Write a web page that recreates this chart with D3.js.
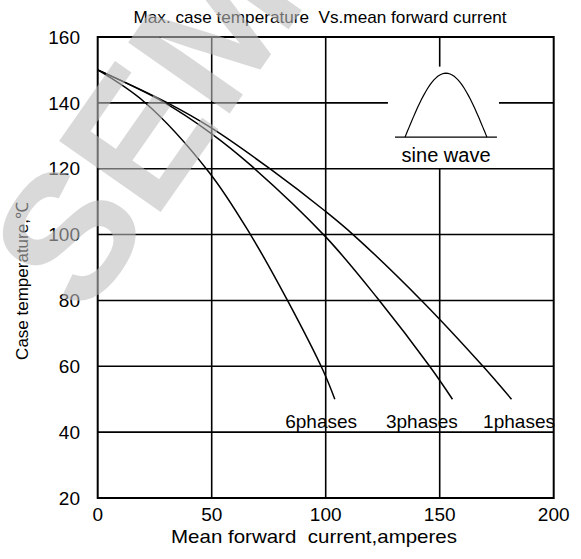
<!DOCTYPE html>
<html><head><meta charset="utf-8">
<script src="https://cdn.jsdelivr.net/npm/d3@7"></script>
<style>body{margin:0;background:#fff}</style>
</head><body>
<script>
// ---- data ----
const xTicks = [0, 50, 100, 150, 200];
const yTicks = [20, 40, 60, 80, 100, 120, 140, 160];
const phases1 = [[0,150],[30,140.2],[50,132.3],[75.5,120],[100,107],[112,100],[142,80],[169,60],[181.5,50]];
const phases3 = [[0,150],[28.7,140.3],[50,130.6],[67.2,121],[100,99.3],[122.9,80.5],[145.6,60],[155.6,50]];
const phases6 = [[0,150],[20.6,140.2],[49,118.8],[67,100],[83,80.3],[99,58.5],[104,50]];
const seriesNames = ["1phases", "3phases", "6phases"];
const labelX = [184.8, 142.2, 98];
const labelT = 41.2;

const W = 581, H = 559;
const svg = d3.select("body").append("svg").attr("width", W).attr("height", H);
const font = "'Liberation Sans', Arial, sans-serif";

const x = d3.scaleLinear().domain([0, 200]).range([97.7, 553.7]);
const y = d3.scaleLinear().domain([20, 160]).range([498, 37]);

// grid (with the inset gap)
const g = svg.append("g").attr("stroke", "#000").attr("stroke-width", 1.6);
[50, 100].forEach(v => g.append("line").attr("x1", x(v)).attr("x2", x(v)).attr("y1", y(20)).attr("y2", y(160)));
g.append("line").attr("x1", x(150)).attr("x2", x(150)).attr("y1", y(20)).attr("y2", y(120));
g.append("line").attr("x1", x(150)).attr("x2", x(150)).attr("y1", y(151)).attr("y2", y(160));
[40, 60, 80, 100, 120].forEach(v => g.append("line").attr("x1", x(0)).attr("x2", x(200)).attr("y1", y(v)).attr("y2", y(v)));
g.append("line").attr("x1", x(0)).attr("x2", x(127.3)).attr("y1", y(140)).attr("y2", y(140));
g.append("line").attr("x1", x(176)).attr("x2", x(200)).attr("y1", y(140)).attr("y2", y(140));
svg.append("rect").attr("x", x(0)).attr("y", y(160)).attr("width", x(200) - x(0)).attr("height", y(20) - y(160))
  .attr("fill", "none").attr("stroke", "#000").attr("stroke-width", 2);

// inset sine wave symbol
const sineX0 = 134.8, sineX1 = 170.7, sineBase = 129.6, sinePeak = 149;
svg.append("line").attr("x1", x(130.4)).attr("x2", x(175.1)).attr("y1", y(sineBase)).attr("y2", y(sineBase))
  .attr("stroke", "#000").attr("stroke-width", 1.2);
const sinePts = d3.range(0, 41).map(i => {
  const t = i / 40;
  return [sineX0 + (sineX1 - sineX0) * t, sineBase + (sinePeak - sineBase) * Math.sin(Math.PI * t)];
});
svg.append("path").attr("d", d3.line().x(d => x(d[0])).y(d => y(d[1]))(sinePts))
  .attr("fill", "none").attr("stroke", "#000").attr("stroke-width", 1.2);
svg.append("text").attr("x", x(152.8)).attr("y", 162).attr("text-anchor", "middle")
  .attr("font-family", font).attr("font-size", 20).text("sine wave");

// curves
const line = d3.line().x(d => x(d[0])).y(d => y(d[1])).curve(d3.curveCatmullRom.alpha(0.5));
[phases1, phases3, phases6].forEach(s => {
  svg.append("path").attr("d", line(s)).attr("fill", "none").attr("stroke", "#000").attr("stroke-width", 1.5);
});
seriesNames.forEach((n, i) => {
  svg.append("text").attr("x", x(labelX[i])).attr("y", y(labelT)).attr("text-anchor", "middle")
    .attr("font-family", font).attr("font-size", 19).text(n);
});

// tick labels
svg.append("g").selectAll("text").data(yTicks).join("text")
  .attr("x", 80).attr("y", d => y(d)).attr("dy", "0.35em").attr("text-anchor", "end")
  .attr("font-family", font).attr("font-size", 19).text(d => d);
svg.append("g").selectAll("text").data(xTicks).join("text")
  .attr("x", d => x(d)).attr("y", 521).attr("text-anchor", "middle")
  .attr("font-family", font).attr("font-size", 19).text(d => d);

// titles
svg.append("text").attr("x", 320).attr("y", 23).attr("text-anchor", "middle")
  .attr("font-family", font).attr("font-size", 17).attr("textLength", 373).attr("lengthAdjust", "spacingAndGlyphs")
  .style("white-space", "pre")
  .text("Max. case temperature  Vs.mean forward current");
svg.append("text").attr("x", 314).attr("y", 543).attr("text-anchor", "middle")
  .attr("font-family", font).attr("font-size", 19).attr("textLength", 286).attr("lengthAdjust", "spacingAndGlyphs")
  .style("white-space", "pre")
  .text("Mean forward  current,amperes");
svg.append("text").attr("transform", "translate(28,281) rotate(-90)").attr("text-anchor", "middle")
  .attr("font-family", font).attr("font-size", 17).text("Case temperature,℃");

// watermark
svg.append("text").attr("transform", "translate(85,320) rotate(-55)")
  .attr("font-family", font).attr("font-weight", "bold").attr("font-size", 180)
  .attr("fill", "rgb(190,190,190)").attr("fill-opacity", 0.58).text("SEMI");
</script>
</body></html>
